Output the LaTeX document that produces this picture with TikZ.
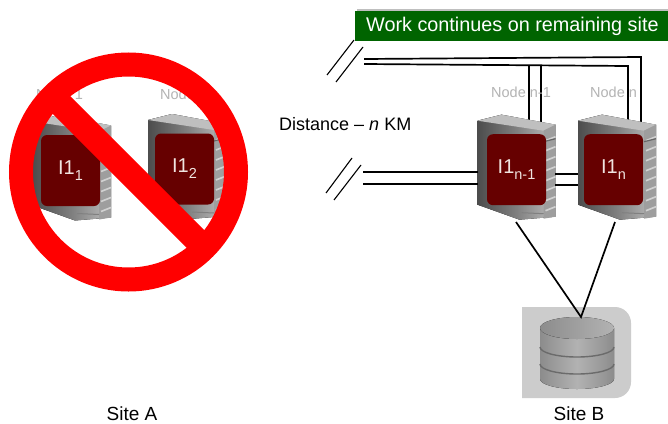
\documentclass[tikz,border=0pt]{standalone}
\usepackage{fontspec}
\setmainfont{Liberation Sans}
\definecolor{banner}{HTML}{006400}
\definecolor{maroon}{HTML}{660000}
\definecolor{facetext}{HTML}{F0E4E0}
\definecolor{nodegray}{HTML}{B4B4B4}
\definecolor{panel}{HTML}{CCCCCC}
\newcommand{\subscr}[1]{\raisebox{-0.55ex}{\fontsize{14.5}{14.5}\selectfont #1}}
\tikzset{
  link/.style={draw=black,line width=1.7pt},
  nodelabel/.style={text=nodegray,font=\fontsize{14.5}{16}\selectfont,inner sep=0pt},
  sitelabel/.style={font=\fontsize{19}{21}\selectfont,inner sep=0pt},
  face/.style={fill=maroon,rounded corners=6pt,minimum width=59pt,minimum height=71pt,inner sep=0pt,text=facetext,font=\fontsize{20}{22}\selectfont},
}
% name, origin x, origin y, box offset x, label
\newcommand{\srv}[5]{%
  \begin{scope}[shift={(#2,#3)}]
    \fill[left color=black!70,right color=black!25,middle color=black!50]
      (0,0) -- (24,-6) -- (78,4) -- (78,96) -- (42,99) -- (0,84) -- cycle;
    \fill[black!25] (0,0) -- (24,-6) -- (78,4) -- (66,10) -- cycle;
    \fill[black!38] (66,10) -- (78,4) -- (78,96) -- (66,98) -- cycle;
    \foreach \yy in {20,30,...,90}{\draw[black!18,line width=1.6pt] (68,\yy) -- (78,\yy-4);}
    \draw[black!60,line width=1.2pt] (66,21) -- (78,18);
    \draw[black!50,line width=1pt] (44,92) -- (66,93);
    \node[face] (#1) at (#4+29.5,49) {#5};
  \end{scope}}
\begin{document}
\begin{tikzpicture}[x=1pt,y=-1pt]
\useasboundingbox (0,0) rectangle (668,423);
\fill[white] (0,0) rectangle (668,423);
% banner
\fill[black!25] (357,9) rectangle (668,12);
\node[fill=banner,minimum width=313pt,minimum height=30pt,inner sep=0pt,anchor=north west] (banner) at (355,11) {};
\node[text=white,inner sep=0pt,anchor=west,font=\fontsize{19.8}{22}\selectfont] (bantext) at (366,26) {Work continues on remaining site};
% free ends of the links
\coordinate (ta) at (364,59);
\coordinate (tb) at (364,64);
\coordinate (tac) at (641,57);
\coordinate (tbc) at (628,66);
\coordinate (ua) at (529,65);
\coordinate (ub) at (541,65);
\coordinate (da) at (529,120);
\coordinate (db) at (541,122);
\coordinate (dc) at (628,120);
\coordinate (dd) at (641,122);
\coordinate (la) at (363,172);
\coordinate (lb) at (363,184);
\coordinate (sa1) at (327,75); \coordinate (sa2) at (354,40);
\coordinate (sb1) at (336,82); \coordinate (sb2) at (363,47);
\coordinate (sc1) at (326,193); \coordinate (sc2) at (352,158);
\coordinate (sd1) at (334,200); \coordinate (sd2) at (361,165);
\coordinate (la2) at (478,172);
\coordinate (lb2) at (478,184);
\coordinate (ma1) at (555,174);
\coordinate (ma2) at (578,174);
\coordinate (mb1) at (555,185);
\coordinate (mb2) at (578,185);
\draw[line width=1.1pt] (sa1) -- (sa2);
\draw[line width=1.1pt] (sb1) -- (sb2);
\draw[line width=1.1pt] (sc1) -- (sc2);
\draw[line width=1.1pt] (sd1) -- (sd2);
\draw[link] (ta) -- (tac) -- (dd);
\draw[link] (tb) -- (tbc) -- (dc);
\draw[link] (ua) -- (da);
\draw[link] (ub) -- (db);
% node labels
\node[nodelabel,anchor=west] (ln1) at (36,94) {Node 1};
\node[nodelabel,anchor=west] (ln2) at (160,94) {Node 2};
\node[nodelabel,anchor=west] (ln3) at (491,92) {Node n-1};
\node[nodelabel,anchor=west] (ln4) at (590,92) {Node n};
\coordinate (stemA) at (516,222);
\coordinate (stemB) at (615,222);
\coordinate (tip) at (581,317);
% servers
\srv{i1}{33}{121.5}{8}{I1\subscr{1}}
\srv{i2}{148}{120}{7}{I1\subscr{2}}
\srv{i3}{477.5}{120.7}{9.5}{I1\subscr{n-1}}
\srv{i4}{578}{120.7}{6}{I1\subscr{n}}
\draw[link] (la) -- (la2);
\draw[link] (lb) -- (lb2);
\draw[link] (ma1) -- (ma2);
\draw[link] (mb1) -- (mb2);
% storage
\fill[panel] (522,307) -- (615,307) arc[start angle=-90,end angle=0,radius=16] -- (631,382) arc[start angle=0,end angle=90,radius=16] -- (522,398) -- cycle;
\fill[left color=black!45,right color=black!45,middle color=black!30] (540,328) -- (540,379) arc[start angle=180,end angle=0,x radius=37,y radius=10] -- (614,328) -- cycle;
\fill[left color=black!45,right color=black!30] (577,328) circle[x radius=37,y radius=11];
\draw[black!58,line width=1.4pt] (540,347) arc[start angle=180,end angle=0,x radius=37,y radius=10];
\draw[black!58,line width=1.4pt] (540,364) arc[start angle=180,end angle=0,x radius=37,y radius=10];
\draw[link,line join=miter] (stemA) -- (tip) -- (stemB);
% prohibition sign
\draw[red,line width=24pt] (128.5,172) circle[radius=107.5];
\draw[red,line width=25pt] (52.5,96) -- (204.5,248);
% texts
\node[inner sep=0pt,anchor=west,font=\fontsize{18}{20}\selectfont] (dist) at (279,124) {Distance – \textit{n} KM};
\node[sitelabel] (sA) at (132,414) {Site A};
\node[sitelabel] (sB) at (579,414) {Site B};
\end{tikzpicture}
\end{document}
